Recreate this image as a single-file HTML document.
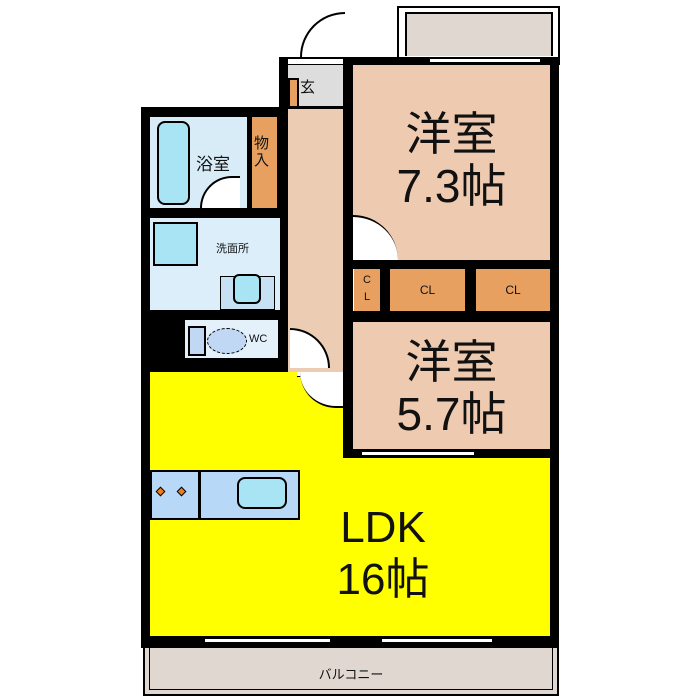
<!DOCTYPE html>
<html><head><meta charset="utf-8"><style>
body{margin:0;width:700px;height:700px;background:#fff;position:relative;overflow:hidden;font-family:"Liberation Sans","Noto Sans CJK JP",sans-serif}
div{position:absolute;box-sizing:border-box}
.k{background:#000}
.t{color:#111;text-align:center;white-space:nowrap}
</style></head><body>
<!-- top balcony -->
<div style="left:397px;top:6px;width:163px;height:52px;border:2px solid #000;border-bottom:none;background:#fff"></div>
<div style="left:405px;top:12px;width:148px;height:44px;border:2px solid #000;border-bottom:none;background:#e0d8d0"></div>
<!-- outer walls -->
<div class="k" style="left:141px;top:107px;width:147px;height:10px"></div>
<div class="k" style="left:141px;top:107px;width:9px;height:541px"></div>
<div class="k" style="left:279px;top:57px;width:9px;height:315px"></div>
<div class="k" style="left:279px;top:57px;width:18px;height:8px"></div>
<div class="k" style="left:343px;top:57px;width:217px;height:8px"></div>
<div class="k" style="left:343px;top:57px;width:10px;height:400px"></div>
<div class="k" style="left:550px;top:57px;width:9px;height:591px"></div>
<div class="k" style="left:141px;top:636px;width:418px;height:12px"></div>
<!-- window lines top -->
<div style="left:430px;top:59px;width:110px;height:3px;background:#fff"></div>
<!-- entry -->
<div style="left:288px;top:65px;width:55px;height:43px;background:#ddd"></div>
<div style="left:288px;top:57px;width:55px;height:8px;background:#fff;border-top:2px solid #000;border-bottom:1px solid #000"></div>
<div style="left:288px;top:78px;width:11px;height:30px;background:#e8a060;border:2px solid #000"></div>
<div class="t" style="left:300px;top:76px;font-size:15px">玄</div>
<div style="left:300px;top:12px;width:45px;height:45px;border-top:2px solid #000;border-left:2px solid #000;border-top-left-radius:45px"></div>
<div class="k" style="left:288px;top:106px;width:55px;height:3px"></div>
<!-- corridor -->
<div style="left:288px;top:109px;width:55px;height:263px;background:#eccdb3"></div>
<!-- bedroom 1 -->
<div style="left:353px;top:65px;width:197px;height:195px;background:#eecbb0"></div>
<div class="t" style="left:353px;top:108px;width:197px;font-size:46px;line-height:52px">洋室<br>7.3帖</div>
<div style="left:353px;top:215px;width:45px;height:45px;background:#fff;border-top:2px solid #000;border-right:0;border-top-right-radius:45px"></div>
<!-- CL row -->
<div class="k" style="left:343px;top:260px;width:216px;height:9px"></div>
<div class="k" style="left:343px;top:311px;width:216px;height:11px"></div>
<div class="k" style="left:380px;top:260px;width:10px;height:60px"></div>
<div class="k" style="left:465px;top:260px;width:11px;height:60px"></div>
<div style="left:354px;top:269px;width:26px;height:42px;background:#e8a060"></div>
<div style="left:390px;top:269px;width:75px;height:42px;background:#e8a060"></div>
<div style="left:476px;top:269px;width:74px;height:42px;background:#e8a060"></div>
<div class="t" style="left:354px;top:272px;width:26px;font-size:11px;line-height:17px">C<br>L</div>
<div class="t" style="left:390px;top:283px;width:75px;font-size:12px">CL</div>
<div class="t" style="left:476px;top:283px;width:74px;font-size:12px">CL</div>
<!-- bedroom 2 -->
<div style="left:353px;top:322px;width:197px;height:127px;background:#eecbb0"></div>
<div class="k" style="left:343px;top:449px;width:216px;height:9px"></div>
<div style="left:362px;top:452px;width:112px;height:3px;background:#fff"></div>
<div class="t" style="left:353px;top:336px;width:197px;font-size:46px;line-height:52px">洋室<br>5.7帖</div>
<!-- bath -->
<div style="left:150px;top:117px;width:97px;height:91px;background:#d8ecf8"></div>
<div style="left:157px;top:121px;width:33px;height:84px;background:#a8e4f4;border:2px solid #000;border-radius:8px"></div>
<div class="t" style="left:196px;top:150px;font-size:17px">浴室</div>
<div style="left:200px;top:176px;width:40px;height:32px;border-top:2px solid #000;border-left:2px solid #000;border-top-left-radius:40px;background:#fff"></div>
<div class="k" style="left:247px;top:117px;width:5px;height:101px"></div>
<div style="left:252px;top:117px;width:25px;height:91px;background:#e8a060"></div>
<div class="t" style="left:254px;top:135px;font-size:15px;line-height:17px">物<br>入</div>
<div class="k" style="left:277px;top:117px;width:3px;height:101px"></div>
<div class="k" style="left:150px;top:208px;width:130px;height:10px"></div>
<!-- washroom -->
<div style="left:150px;top:218px;width:130px;height:92px;background:#dbeefa"></div>
<div style="left:153px;top:222px;width:45px;height:44px;background:#a8e4f4;border:2px solid #000"></div>
<div class="t" style="left:216px;top:240px;font-size:11px">洗面所</div>
<div style="left:220px;top:276px;width:55px;height:34px;background:#c8e0f4;border:1px solid #000"></div>
<div style="left:233px;top:274px;width:28px;height:30px;background:#a8e4f4;border:2px solid #000;border-radius:6px"></div>
<!-- wc -->
<div class="k" style="left:150px;top:310px;width:130px;height:8px"></div>
<div class="k" style="left:150px;top:310px;width:33px;height:62px"></div>
<div style="left:183px;top:318px;width:97px;height:42px;background:#e4f0fa;border:2px solid #000"></div>
<div style="left:188px;top:326px;width:18px;height:30px;background:#c0d8f4;border:2px solid #000"></div>
<div style="left:207px;top:328px;width:40px;height:26px;background:#c0d8f4;border:1px dashed #000;border-radius:50%"></div>
<div class="t" style="left:249px;top:333px;font-size:11px">WC</div>
<div class="k" style="left:150px;top:360px;width:138px;height:12px"></div>
<div style="left:290px;top:328px;width:40px;height:40px;background:#fff;border-top:2px solid #000;border-right:2px solid #000;border-top-right-radius:40px"></div>
<!-- LDK -->
<div style="left:150px;top:372px;width:193px;height:264px;background:#ffff00"></div>
<div style="left:343px;top:458px;width:207px;height:178px;background:#ffff00"></div>
<div style="left:297px;top:372px;width:46px;height:5px;background:#fff;border-bottom:1px solid #000"></div>
<div style="left:300px;top:372px;width:43px;height:36px;background:#fff;border-bottom:2px solid #000;border-left:0;border-bottom-left-radius:43px"></div>
<div style="left:150px;top:470px;width:150px;height:50px;background:#b8d8f8;border:2px solid #000"></div>
<div style="left:198px;top:470px;width:3px;height:50px;background:#000"></div>
<div style="left:237px;top:477px;width:50px;height:32px;background:#a8e4f4;border:2px solid #000;border-radius:8px"></div>
<div style="left:157px;top:488px;width:7px;height:7px;background:#e88020;border:1px solid #000;transform:rotate(45deg)"></div>
<div style="left:178px;top:488px;width:7px;height:7px;background:#e88020;border:1px solid #000;transform:rotate(45deg)"></div>
<div class="t" style="left:283px;top:502px;width:200px;font-size:44px;line-height:52px">LDK<br>16帖</div>
<!-- bottom windows -->
<div style="left:205px;top:639px;width:125px;height:3px;background:#fff"></div>
<div style="left:382px;top:639px;width:110px;height:3px;background:#fff"></div>
<!-- balcony bottom -->
<div style="left:143px;top:648px;width:416px;height:48px;background:#e0d8d0;border:2px solid #000;border-top:none"></div>
<div style="left:149px;top:648px;width:404px;height:42px;border:1px solid #000;border-top:none"></div>
<div class="t" style="left:143px;top:664px;width:416px;font-size:13px">バルコニー</div>
</body></html>
